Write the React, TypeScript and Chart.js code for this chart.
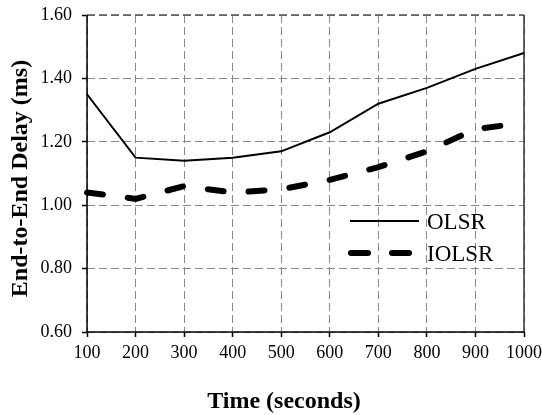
import React, { useEffect, useRef } from 'react';
import { Chart, registerables } from 'chart.js';

Chart.register(...registerables);

const categories = ['100', '200', '300', '400', '500', '600', '700', '800', '900', '1000'];
const olsrValues = [1.35, 1.15, 1.14, 1.15, 1.17, 1.23, 1.32, 1.37, 1.43, 1.48];
const iolsrValues = [1.04, 1.02, 1.06, 1.04, 1.05, 1.08, 1.12, 1.17, 1.24, 1.26];
const yTickValues = [0.6, 0.8, 1.0, 1.2, 1.4, 1.6];
const seriesNames = ['OLSR', 'IOLSR'];
const xTitle = 'Time (seconds)';
const yTitle = 'End-to-End Delay (ms)';

const SERIF = '"Liberation Serif", "Times New Roman", serif';

const decorPlugin = {
  id: 'decor',
  beforeDatasetsDraw(chart: any) {
    const { ctx, chartArea } = chart;
    const { left, right, top, bottom } = chartArea;
    ctx.save();
    ctx.strokeStyle = '#555';
    ctx.lineWidth = 1.5;
    ctx.setLineDash([8, 4]);
    ctx.beginPath();
    ctx.moveTo(left, top);
    ctx.lineTo(right, top);
    ctx.stroke();
    ctx.setLineDash([]);
    ctx.strokeStyle = '#333';
    ctx.beginPath();
    ctx.moveTo(right, top);
    ctx.lineTo(right, bottom);
    ctx.stroke();
    ctx.strokeStyle = '#000';
    ctx.lineWidth = 1.5;
    ctx.beginPath();
    ctx.moveTo(left, top);
    ctx.lineTo(left, bottom);
    ctx.lineTo(right, bottom);
    ctx.stroke();
    ctx.restore();
  },
  afterDraw(chart: any) {
    const { ctx } = chart;
    ctx.save();
    ctx.fillStyle = '#000';
    ctx.font = `bold 24px ${SERIF}`;
    ctx.textAlign = 'center';
    ctx.textBaseline = 'alphabetic';
    ctx.fillText(xTitle, 284, 408);
    ctx.save();
    ctx.translate(27, 178.5);
    ctx.rotate(-Math.PI / 2);
    ctx.fillText(yTitle, 0, 0);
    ctx.restore();

    const legendX0 = 350;
    const legendX1 = 419;
    const rowsY = [221, 253];
    chart.data.datasets.forEach((ds: any, i: number) => {
      const y = rowsY[i];
      ctx.strokeStyle = ds.borderColor;
      ctx.lineWidth = ds.borderWidth;
      ctx.lineCap = ds.borderCapStyle || 'butt';
      ctx.setLineDash(ds.borderDash && ds.borderDash.length ? [17, 24] : []);
      ctx.beginPath();
      ctx.moveTo(legendX0 + (i === 1 ? 1 : 0), y);
      ctx.lineTo(legendX1, y);
      ctx.stroke();
      ctx.setLineDash([]);
      ctx.fillStyle = '#000';
      ctx.font = `23px ${SERIF}`;
      ctx.textAlign = 'left';
      ctx.textBaseline = 'middle';
      ctx.fillText(ds.label, legendX1 + 8, y + 2);
    });
    ctx.restore();
  },
};

export default function App() {
  const canvasRef = useRef<HTMLCanvasElement | null>(null);

  useEffect(() => {
    document.body.style.margin = '0';
    const canvas = canvasRef.current;
    if (!canvas) return;
    const chart = new Chart(canvas, {
      type: 'line',
      data: {
        labels: categories,
        datasets: [
          {
            label: seriesNames[0],
            data: olsrValues,
            borderColor: '#000',
            borderWidth: 2,
            pointRadius: 0,
            tension: 0,
            fill: false,
          },
          {
            label: seriesNames[1],
            data: iolsrValues,
            borderColor: '#000',
            borderWidth: 6,
            borderDash: [16, 25],
            borderCapStyle: 'round',
            pointRadius: 0,
            tension: 0,
            fill: false,
          },
        ],
      },
      options: {
        animation: false,
        responsive: false,
        devicePixelRatio: 1,
        layout: { padding: { top: 15, right: 18, left: 0, bottom: 0 } },
        plugins: {
          legend: { display: false },
          tooltip: { enabled: false },
          title: { display: false },
        },
        scales: {
          x: {
            type: 'category',
            offset: false,
            grid: {
              color: '#888',
              lineWidth: 1,
              drawTicks: true,
              tickLength: 5,
              tickColor: '#000',
              tickWidth: 1.5,
              tickBorderDash: [],
            },
            border: { display: false, dash: [8, 4] },
            ticks: {
              color: '#000',
              font: { family: SERIF, size: 18 },
              padding: 5,
              maxRotation: 0,
              autoSkip: false,
            },
            afterFit: (scale: any) => {
              scale.height = 83;
              scale.paddingLeft = 0;
              scale.paddingRight = 0;
            },
          },
          y: {
            type: 'linear',
            min: 0.6,
            max: 1.6,
            afterBuildTicks: (scale: any) => {
              scale.ticks = yTickValues.map((v) => ({ value: v }));
            },
            grid: {
              color: '#888',
              lineWidth: 1,
              drawTicks: true,
              tickLength: 5,
              tickColor: '#000',
              tickWidth: 1.5,
              tickBorderDash: [],
            },
            border: { display: false, dash: [8, 4] },
            ticks: {
              color: '#000',
              font: { family: SERIF, size: 18 },
              padding: 10,
              callback: (v: any) => Number(v).toFixed(2),
            },
            afterFit: (scale: any) => {
              scale.width = 87;
              scale.paddingTop = 0;
              scale.paddingBottom = 0;
            },
          },
        },
      },
      plugins: [decorPlugin],
    });
    return () => chart.destroy();
  }, []);

  return (
    <div style={{ width: 542, height: 415, background: '#fff' }}>
      <canvas ref={canvasRef} width={542} height={415} style={{ display: 'block' }} />
    </div>
  );
}
